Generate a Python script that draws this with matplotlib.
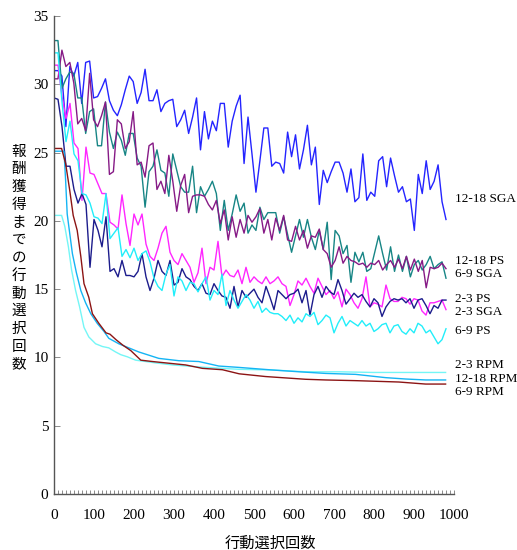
"""
Action selections until reward - comparison of SGA / PS / RPM
Recreated line chart (noisy learning curves + smooth RPM curves)
"""

import numpy as np
import matplotlib
matplotlib.use("Agg")
import matplotlib.pyplot as plt
from matplotlib.ticker import MultipleLocator

# --- data (one value per 10 steps) ---

sga_12_18 = [31.0, 31.0, 30.6, 26.9, 31.3, 30.6, 31.6, 28.6, 31.6, 31.7,
             29.0, 29.1, 29.7, 30.4, 28.8, 28.1, 27.7, 28.5, 29.6, 30.6,
             30.2, 28.6, 29.4, 31.1, 28.8, 28.8, 29.6, 28.0, 28.6, 28.8,
             28.9, 26.9, 27.4, 28.1, 26.4, 27.6, 29.0, 25.2, 28.0, 26.0,
             27.3, 26.6, 28.6, 28.6, 25.4, 27.3, 28.4, 29.2, 24.2, 27.6,
             24.9, 22.1, 24.4, 26.8, 26.8, 24.0, 24.3, 24.2, 23.5, 26.5,
             24.7, 26.3, 23.8, 25.2, 27.0, 24.1, 25.4, 21.2, 23.7, 22.8,
             23.6, 24.3, 24.3, 23.5, 22.1, 23.8, 21.4, 21.7, 24.9, 21.5,
             22.1, 21.8, 24.4, 24.7, 22.5, 24.6, 23.3, 22.1, 22.5, 21.4,
             21.6, 19.3, 23.4, 22.0, 24.4, 22.3, 22.9, 24.1, 21.4, 20.1]

sga_6_9 = [33.2, 33.2, 29.7, 30.4, 30.9, 30.8, 29.0, 29.0, 26.4, 28.0,
           28.2, 25.5, 25.5, 28.7, 26.5, 25.3, 26.5, 25.9, 24.8, 26.4,
           26.4, 24.6, 24.0, 21.0, 23.6, 24.0, 25.2, 23.7, 23.5, 21.8,
           24.9, 23.7, 22.5, 22.1, 22.1, 24.0, 20.6, 22.5, 21.8, 22.3,
           22.9, 22.0, 19.3, 21.5, 19.3, 20.5, 21.9, 20.7, 21.3, 19.1,
           19.7, 19.3, 21.0, 20.1, 20.6, 20.6, 20.6, 19.1, 20.3, 19.0,
           17.7, 18.9, 20.1, 18.8, 20.1, 18.8, 17.9, 19.3, 17.9, 19.9,
           15.7, 19.3, 18.9, 17.6, 18.2, 15.5, 17.7, 17.0, 17.7, 16.3,
           16.5, 17.7, 18.9, 17.6, 16.4, 18.1, 16.3, 17.5, 16.3, 17.4,
           15.9, 16.8, 17.1, 16.4, 16.8, 17.4, 16.5, 16.8, 17.0, 15.8]

ps_12_18 = [30.4, 30.4, 32.5, 31.3, 31.6, 30.1, 27.1, 27.5, 26.6, 30.8,
            27.4, 26.9, 27.7, 28.7, 23.4, 23.6, 27.4, 27.1, 25.3, 25.8,
            28.0, 24.1, 24.3, 23.2, 25.5, 25.7, 22.3, 22.9, 22.0, 24.8,
            22.9, 20.7, 22.6, 23.4, 20.6, 21.8, 21.9, 21.9, 21.8, 21.2,
            20.8, 21.5, 19.8, 20.8, 18.6, 20.3, 18.8, 20.1, 19.1, 20.4,
            19.9, 20.3, 20.9, 19.1, 20.1, 18.6, 20.2, 19.3, 20.4, 18.6,
            18.5, 19.6, 18.6, 19.3, 18.0, 18.9, 18.8, 19.4, 17.9, 17.6,
            16.6, 17.1, 18.1, 16.9, 17.4, 17.1, 17.0, 16.8, 16.9, 16.6,
            16.9, 16.8, 17.1, 16.4, 16.8, 17.1, 16.6, 17.2, 16.5, 17.4,
            16.4, 17.2, 16.3, 17.1, 15.1, 16.6, 16.5, 16.6, 16.9, 16.5]

sga_2_3 = [31.4, 31.4, 29.1, 27.5, 28.6, 25.7, 25.3, 21.5, 25.4, 23.5,
           23.4, 22.7, 22.0, 22.0, 19.9, 19.7, 19.4, 21.9, 19.8, 18.2,
           20.5, 19.7, 20.5, 18.3, 17.4, 17.1, 18.0, 19.1, 19.6, 17.7,
           17.1, 16.8, 17.6, 17.1, 16.6, 15.5, 16.2, 18.0, 15.4, 16.6,
           16.4, 18.5, 15.9, 16.4, 16.0, 15.9, 16.4, 15.4, 16.6, 15.5,
           15.9, 15.6, 15.4, 15.9, 15.4, 15.6, 15.9, 15.4, 15.2, 13.8,
           14.6, 15.6, 15.3, 15.8, 15.2, 14.7, 15.8, 15.2, 14.6, 14.9,
           14.3, 14.8, 13.7, 15.0, 14.6, 14.0, 13.6, 14.3, 15.9, 13.7,
           14.0, 13.9, 13.7, 15.3, 14.3, 14.1, 14.1, 14.4, 14.3, 13.9,
           14.3, 14.2, 13.4, 13.1, 14.0, 14.0, 14.1, 14.2, 13.5]

ps_2_3 = [29.0, 28.9, 26.9, 24.0, 24.0, 22.3, 21.3, 22.0, 21.2, 16.6,
          20.1, 19.3, 18.1, 20.3, 16.3, 16.5, 15.9, 17.1, 16.0, 16.0,
          15.9, 16.3, 17.6, 15.9, 14.9, 15.8, 17.1, 16.3, 16.0, 17.1,
          15.3, 15.5, 16.5, 15.9, 15.7, 15.2, 14.9, 15.4, 14.7, 14.6,
          15.4, 14.9, 14.5, 14.4, 13.6, 15.2, 13.7, 14.9, 14.4, 14.7,
          15.0, 14.4, 14.0, 15.2, 14.4, 13.5, 14.9, 14.6, 14.3, 14.6,
          14.7, 15.0, 14.0, 14.9, 13.1, 14.6, 15.2, 14.4, 15.2, 14.8,
          14.6, 15.7, 14.9, 13.9, 14.3, 14.7, 14.4, 14.6, 14.1, 13.7,
          14.3, 14.0, 13.0, 13.7, 14.1, 14.3, 14.2, 14.3, 14.0, 14.3,
          13.6, 14.2, 14.3, 13.8, 13.2, 13.8, 13.6, 14.2, 14.2]

ps_6_9 = [32.3, 32.3, 28.7, 25.8, 27.3, 24.9, 24.4, 22.0, 21.9, 21.3,
          20.3, 20.2, 19.8, 22.0, 18.7, 19.1, 19.5, 17.4, 17.9, 17.3,
          18.0, 17.1, 17.6, 17.8, 17.0, 15.8, 15.2, 14.9, 16.1, 16.8,
          14.5, 15.9, 15.6, 14.9, 15.5, 15.4, 14.8, 15.4, 15.9, 14.2,
          14.9, 14.6, 16.1, 13.8, 14.9, 14.2, 13.6, 14.1, 14.6, 14.2,
          13.6, 14.1, 13.3, 13.6, 13.3, 13.2, 13.2, 13.0, 12.7, 13.1,
          12.5, 12.9, 12.6, 13.2, 13.0, 13.3, 12.4, 12.7, 13.1, 12.9,
          11.8, 12.5, 13.0, 12.3, 12.7, 12.5, 12.3, 12.7, 12.3, 12.5,
          11.9, 12.1, 12.4, 12.5, 11.8, 12.3, 12.4, 11.9, 11.7, 12.1,
          11.8, 12.5, 12.3, 11.8, 12.0, 11.5, 11.0, 11.3, 12.1]

# smooth RPM curves, sampled at the bends
rpm_6_9_x = [0, 19, 29, 39, 48, 58, 67, 75, 87, 96, 112, 130, 140, 155,
             172, 192, 217, 246, 279, 329, 371, 421, 463, 529, 579, 629,
             679, 754, 862, 929, 979]
rpm_6_9_y = [25.3, 25.3, 24.2, 22.3, 20.4, 19.3, 17.4, 15.4, 14.4, 13.2,
             12.5, 11.8, 11.7, 11.3, 10.9, 10.5, 9.8, 9.7, 9.6, 9.45,
             9.2, 9.1, 8.8, 8.6, 8.5, 8.4, 8.35, 8.3, 8.2, 8.05, 8.05]

rpm_12_18_x = [0, 25, 29, 33, 37, 46, 56, 67, 79, 92, 108, 125, 137, 162,
               187, 212, 262, 312, 362, 412, 462, 546, 612, 679, 754,
               829, 879, 929, 979]
rpm_12_18_y = [25.1, 25.1, 23.0, 20.5, 19.6, 17.6, 16.2, 14.9, 14.0, 13.2,
               12.5, 11.9, 11.4, 11.0, 10.7, 10.4, 9.93, 9.76, 9.7, 9.37,
               9.27, 9.08, 8.95, 8.83, 8.76, 8.52, 8.42, 8.35, 8.35]

rpm_2_3_x = [0, 19, 27, 36, 44, 54, 64, 75, 87, 104, 121, 137, 154, 167,
             183, 204, 229, 254, 296, 379, 462, 546, 629, 712, 796, 979]
rpm_2_3_y = [20.4, 20.4, 19.6, 18.1, 16.4, 14.9, 13.7, 12.2, 11.5, 11.0,
             10.8, 10.7, 10.4, 10.2, 10.05, 9.8, 9.7, 9.6, 9.45, 9.27,
             9.13, 9.08, 8.95, 8.95, 8.9, 8.9]

x_ticks = [0, 100, 200, 300, 400, 500, 600, 700, 800, 900, 1000]
y_ticks = [0, 5, 10, 15, 20, 25, 30, 35]

SERIF = ["Liberation Serif", "DejaVu Serif"]
JP = ["Noto Sans CJK JP", "DejaVu Sans"]


def plot_chart():
    fig = plt.figure(figsize=(5.17, 5.5), dpi=100)
    ax = fig.add_axes([54 / 517, 56 / 550, 400 / 517, 478 / 550])

    # noisy curves (SGA / PS)
    noisy = [
        (sga_12_18, "#2424ff"),
        (sga_6_9, "#178585"),
        (ps_12_18, "#861a86"),
        (sga_2_3, "#ff26ff"),
        (ps_2_3, "#1c1c8c"),
        (ps_6_9, "#22eefa"),
    ]
    for vals, col in noisy:
        xs = np.linspace(0, 980, len(vals))
        ax.plot(xs, vals, color=col, linewidth=1.0)

    # smooth curves (RPM)
    ax.plot(rpm_2_3_x, rpm_2_3_y, color="#74f6f6", linewidth=1.0)
    ax.plot(rpm_12_18_x, rpm_12_18_y, color="#14b4f4", linewidth=1.0)
    ax.plot(rpm_6_9_x, rpm_6_9_y, color="#8c1414", linewidth=1.0)

    ax.set_xlim(0, 1000)
    ax.set_ylim(0, 35)
    ax.set_xticks(x_ticks)
    ax.set_yticks(y_ticks)
    ax.xaxis.set_minor_locator(MultipleLocator(10))

    for side in ["top", "right"]:
        ax.spines[side].set_visible(False)
    for side in ["left", "bottom"]:
        ax.spines[side].set_color("#555555")
        ax.spines[side].set_linewidth(1.0)

    ax.tick_params(axis="x", which="both", direction="in", length=3,
                   color="#777777", width=0.6, pad=11)
    ax.tick_params(axis="y", direction="in", length=4, color="#777777",
                   width=0.6, pad=4)
    for lab in ax.get_xticklabels() + ax.get_yticklabels():
        lab.set_family(SERIF)
        lab.set_fontsize(11)

    # series labels on the right
    labels = [
        ("12-18 SGA", 21.6),
        ("12-18 PS", 17.05),
        ("6-9 SGA", 16.1),
        ("2-3 PS", 14.3),
        ("2-3 SGA", 13.3),
        ("6-9 PS", 11.9),
        ("2-3 RPM", 9.45),
        ("12-18 RPM", 8.45),
        ("6-9 RPM", 7.45),
    ]
    for text, yv in labels:
        ax.text(1002, yv, text, family=SERIF, fontsize=9.5, ha="left",
                va="center", clip_on=False)

    # axis titles (vertical Japanese label is stacked char by char)
    ylab = "報酬獲得までの行動選択回数"
    fig.text(19 / 517, 1 - 258 / 550, "\n".join(ylab), family=JP,
             fontsize=10.5, ha="center", va="center", linespacing=1.34)
    fig.text(270 / 517, 1 - 543 / 550, "行動選択回数", family=JP,
             fontsize=11, ha="center", va="center")

    fig.savefig("out.png", dpi=100)


if __name__ == "__main__":
    plot_chart()
